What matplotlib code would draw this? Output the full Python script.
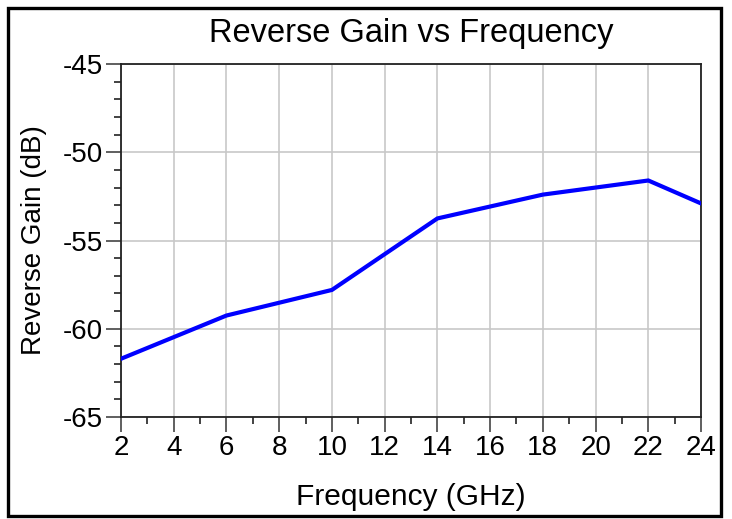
import matplotlib.pyplot as plt
from matplotlib.patches import Rectangle
from matplotlib.ticker import MultipleLocator

plt.rcParams['font.family'] = ['Liberation Sans', 'DejaVu Sans']
plt.rcParams['axes.unicode_minus'] = False

# reverse gain readings
freq_ghz = [2, 6, 10, 14, 18, 22, 24]
gain_db = [-61.7, -59.25, -57.8, -53.75, -52.4, -51.6, -52.9]

fig = plt.figure(figsize=(7.32, 5.19), dpi=100)
ax = fig.add_axes([0.1653, 0.1965, 0.7924, 0.6802])

ax.plot(freq_ghz, gain_db, color='#0000ff', lw=3, solid_joinstyle='miter', zorder=3)

ax.set_xlim(2, 24)
ax.set_ylim(-65, -45)
ax.xaxis.set_major_locator(MultipleLocator(2))
ax.xaxis.set_minor_locator(MultipleLocator(1))
ax.yaxis.set_major_locator(MultipleLocator(5))
ax.yaxis.set_minor_locator(MultipleLocator(1))

ax.grid(True, which='major', color='#c8c8c8', lw=1.2)
ax.tick_params(axis='both', which='major', direction='out', length=11, width=1.2,
               color='#444444', labelsize=20, pad=2)
ax.tick_params(axis='both', which='minor', direction='out', length=5, width=1.2,
               color='#222222')
for s in ax.spines.values():
    s.set_linewidth(1.3)
    s.set_color('#222222')

ax.set_title('Reverse Gain vs Frequency', fontsize=23.5, pad=16)
ax.set_xlabel('Frequency (GHz)', fontsize=21.5, labelpad=16)
ax.set_ylabel('Reverse Gain (dB)', fontsize=20, labelpad=11)

fig.patches.append(Rectangle((8 / 732, 3 / 519), 713 / 732, 508 / 519,
                             transform=fig.transFigure, fill=False,
                             edgecolor='black', lw=2.4))

fig.savefig('out.png', dpi=100)
